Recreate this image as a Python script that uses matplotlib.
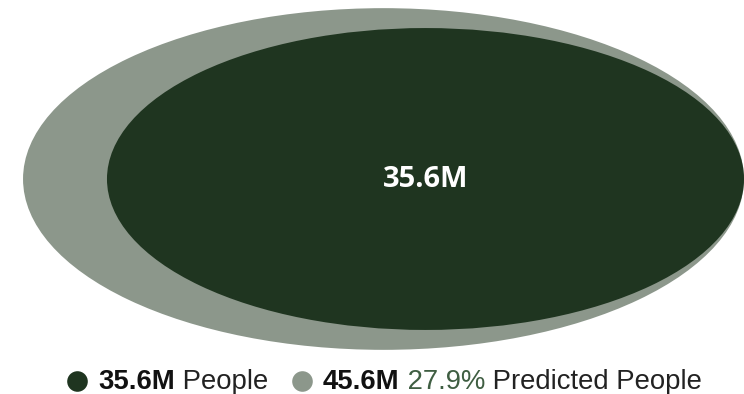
import numpy as np
import matplotlib.pyplot as plt
from matplotlib.patches import Ellipse

# data
labels = ['People', 'Predicted People']
values = [35.6, 45.6]          # millions
value_text = ['35.6M', '45.6M']
pct_text = '27.9%'
colors = ['#1f3520', '#8c978b']

# ellipse size from area ~ value
scale = 25.3        # px per sqrt(M)
aspect = 2.11
right_edge = 744
cy = 179

fig = plt.figure(figsize=(7.44, 3.94), dpi=100)
ax = fig.add_axes([0, 0, 1, 1])
ax.set_xlim(0, 744)
ax.set_ylim(394, 0)
ax.axis('off')

# big one first, then the small one on top
for i in [1, 0]:
    h = np.sqrt(values[i]) * scale
    w = h * aspect
    ax.add_patch(Ellipse((right_edge - w, cy), 2 * w, 2 * h, color=colors[i], lw=0))

h0 = np.sqrt(values[0]) * scale
ax.text(right_edge - h0 * aspect, cy, value_text[0], color='white', fontsize=21,
        fontweight='bold', family='Open Sans', ha='center', va='center')

# legend row
fs = 19.8
ly = 381
ax.scatter([77], [ly], s=220, color=colors[0], lw=0)
t = ax.text(98, ly + 1, value_text[0], fontsize=fs, fontweight='bold', family='Liberation Sans',
            va='center', color='#111111')
t = ax.annotate(' ' + labels[0], xy=(1, 0), xycoords=t, fontsize=fs, family='Liberation Sans',
                va='bottom', color='#222222')
ax.scatter([302], [ly], s=220, color=colors[1], lw=0)
t = ax.text(323, ly + 1, value_text[1], fontsize=fs, fontweight='bold', family='Liberation Sans',
            va='center', color='#111111')
t = ax.annotate(' ' + pct_text, xy=(1, 0), xycoords=t, fontsize=fs, family='Liberation Sans',
                va='bottom', color='#3f5e42')
t = ax.annotate(' ' + labels[1], xy=(1, 0), xycoords=t, fontsize=fs, family='Liberation Sans',
                va='bottom', color='#222222')

fig.savefig('out.png', dpi=100)
